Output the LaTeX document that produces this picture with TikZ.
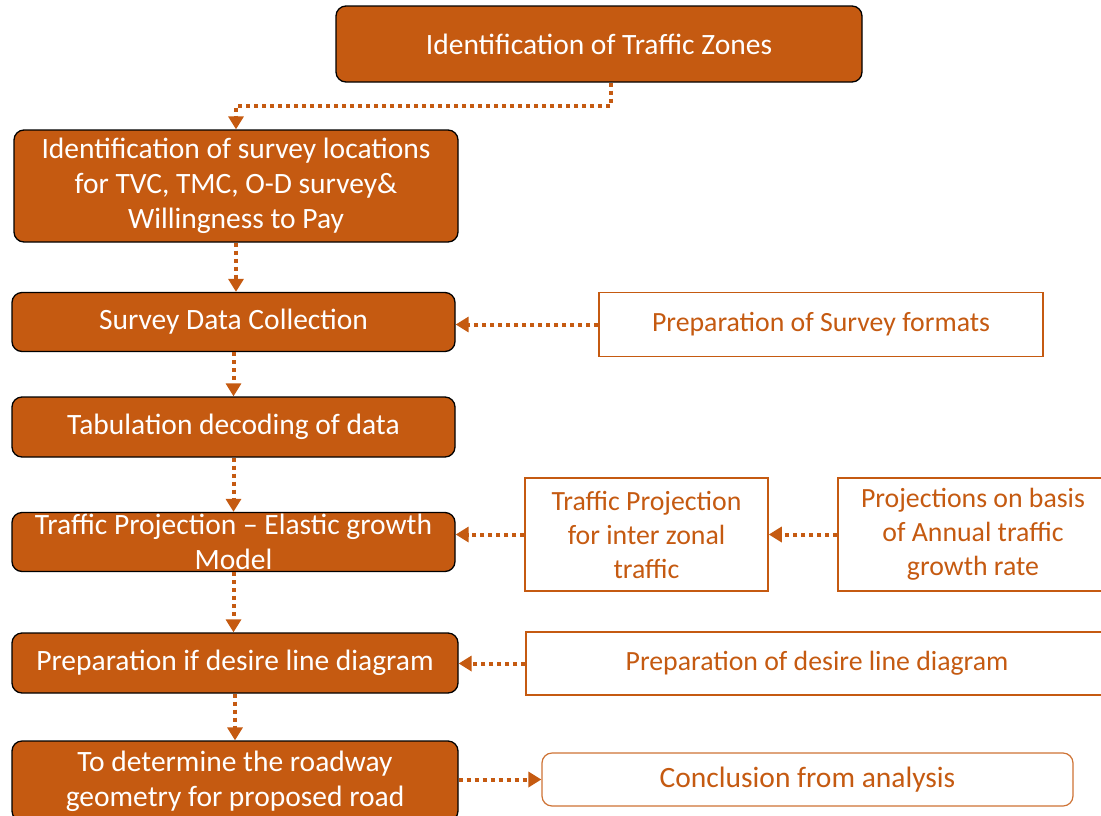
\documentclass[tikz,border=0pt]{standalone}
\usepackage{fontspec}
\setmainfont{Carlito}
\usetikzlibrary{positioning}
\usetikzlibrary{arrows.meta}
\definecolor{rust}{HTML}{C55A11}

\begin{document}
\begin{tikzpicture}[x=1pt, y=-1pt,
  mainbox/.style={draw=black, line width=1.3pt, fill=rust, rounded corners=10pt, text=white, align=center, inner sep=0pt, font=\fontsize{29.5}{35}\selectfont},
  sidebox/.style={draw=rust, line width=1.5pt, fill=white, text=rust, align=center, inner sep=0pt, font=\fontsize{27.8}{34}\selectfont},
  flowarrow/.style={rust, line width=4pt, dash pattern=on 4pt off 4pt, -{Triangle[length=13pt,width=15pt]}}]

\useasboundingbox (0,0) rectangle (1101,815);

% main column
\node[mainbox, minimum width=526, minimum height=76] (zones) at (599,44) {Identification of Traffic Zones};
\node[mainbox, minimum width=444, minimum height=112] (locations) at (236,186)
{Identification of survey locations\\ for TVC, TMC, O-D survey\&\\ Willingness to Pay};
\node[mainbox, minimum width=443, minimum height=59] (survey) at (233.5,322) {Survey Data Collection};
\node[mainbox, minimum width=443, minimum height=60] (tabulation) at (233.5,427) {Tabulation decoding of data};
\node[mainbox, minimum width=443, minimum height=59] (model) at (233.5,542)
{Traffic Projection -- Elastic growth\\ Model};
\node[mainbox, minimum width=446, minimum height=60] (desire) at (235,663) {Preparation if desire line diagram};
\node[mainbox, minimum width=446, minimum height=80] (roadway) at (235,781)
{To determine the roadway\\ geometry for proposed road};

% side boxes
\node[sidebox, minimum width=444, minimum height=64] (formats) at (821,324.5) {Preparation of Survey formats};
\node[sidebox, minimum width=243, minimum height=113] (interzonal) at (646.5,534.5)
{Traffic Projection\\ for inter zonal\\ traffic};
\node[sidebox, minimum width=270, minimum height=113] (basis) at (973,534.5)
{Projections on basis\\ of Annual traffic\\ growth rate};
\node[sidebox, minimum width=582, minimum height=63] (desireline) at (817,663.5) {Preparation of desire line diagram};
\node[sidebox, draw=rust!85, line width=1.2pt, rounded corners=10pt, font=\fontsize{29.5}{35}\selectfont, minimum width=531, minimum height=53] (conclusion) at (807.5,779.5) {Conclusion from analysis};

% arrows
\draw[flowarrow] ([xshift=12pt]zones.south) -- ++(0,23) -| (locations.north);
\draw[flowarrow] (locations.south) -- (locations.south |- survey.north);
\draw[flowarrow] (survey.south) -- (tabulation.north);
\draw[flowarrow] (tabulation.south) -- (model.north);
\draw[flowarrow] (model.south) -- (model.south |- desire.north);
\draw[flowarrow] (desire.south) -- (roadway.north);

\draw[flowarrow] (formats.west) -- (formats.west -| survey.east);
\draw[flowarrow] (interzonal.west) -- (interzonal.west -| model.east);
\draw[flowarrow] (basis.west) -- (interzonal.east);
\draw[flowarrow] (desireline.west) -- (desireline.west -| desire.east);
\draw[flowarrow] (roadway.east |- conclusion.west) -- (conclusion.west);

\end{tikzpicture}
\end{document}
